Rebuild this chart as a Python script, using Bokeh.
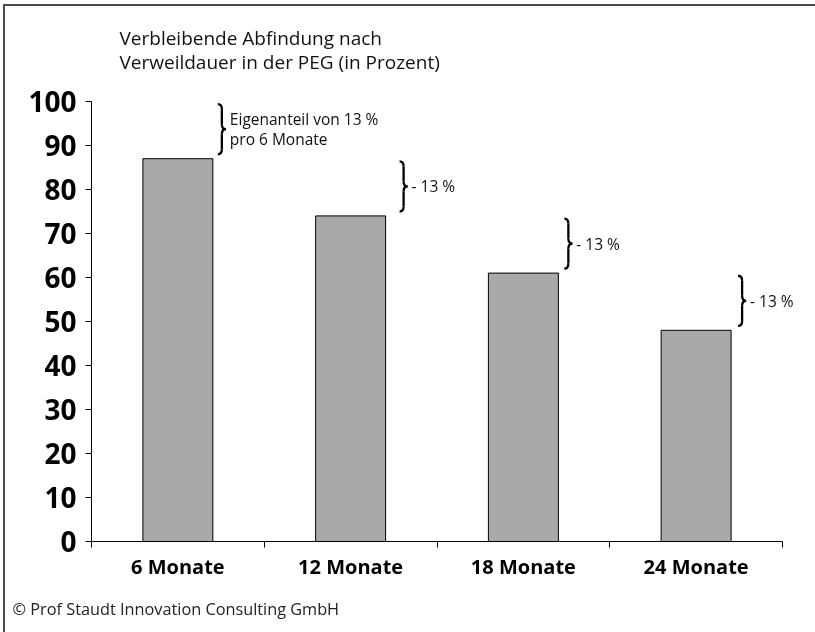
from bokeh.plotting import figure
from bokeh.models import FixedTicker, Label, Range1d, Title
from bokeh.embed import file_html
from bokeh.resources import INLINE

# ---- data ----
categories = ["6 Monate", "12 Monate", "18 Monate", "24 Monate"]
values = [87, 74, 61, 48]
start_value = 100
y_ticks = [0, 10, 20, 30, 40, 50, 60, 70, 80, 90, 100]
title_lines = ["Verbleibende Abfindung nach", "Verweildauer in der PEG (in Prozent)"]
brace_texts = [["Eigenanteil von 13 %", "pro 6 Monate"], ["- 13 %"], ["- 13 %"], ["- 13 %"]]
copyright_text = "© Prof Staudt Innovation Consulting GmbH"

FONT = "Open Sans"
n = len(categories)
xc = [i + 0.5 for i in range(n)]

W, H = 812, 632
ML, MB = 86, 97
frame_w = W - ML
frame_h = H - MB
px_per_cat = 172.75
px_per_unit = 4.4
x_end = frame_w / px_per_cat
y_end = frame_h / px_per_unit

p = figure(width=W, height=H, x_range=Range1d(0, x_end), y_range=Range1d(0, y_end),
           output_backend="svg", toolbar_location=None,
           min_border_left=ML, min_border_right=0, min_border_top=0, min_border_bottom=MB)
p.styles = {"position": "fixed", "top": "4px", "left": "3px",
            "border-top": "2px solid #4a4a4a", "border-left": "2px solid #4a4a4a"}
p.outline_line_color = None
p.xgrid.visible = False
p.ygrid.visible = False
p.background_fill_color = "white"
p.border_fill_color = "white"

pxx = px_per_cat
pxy = px_per_unit

bar_w = 0.405
p.vbar(x=xc, top=values, bottom=0, width=bar_w, fill_color="#a9a9a9",
       line_color="black", line_width=1)

# ---- braces ----
prev = [start_value] + values[:-1]
brace_dx = [5, 14, 6, 7]
w = 8 / pxx
ry = 5 / pxy
q = dict(x0=[], y0=[], x1=[], y1=[], cx=[], cy=[])
seg = dict(x0=[], y0=[], x1=[], y1=[])
def addq(a, b, c, d, e, f):
    q["x0"].append(a); q["y0"].append(b); q["x1"].append(c); q["y1"].append(d)
    q["cx"].append(e); q["cy"].append(f)
def adds(a, b, c, d):
    seg["x0"].append(a); seg["y0"].append(b); seg["x1"].append(c); seg["y1"].append(d)

for i in range(n):
    top = prev[i] - 0.6
    bot = values[i] + 1.0
    mid = (top + bot) / 2
    x0 = xc[i] + bar_w / 2 + brace_dx[i] / pxx
    xm = x0 + w / 2
    addq(x0, top, xm, top - ry, xm, top)
    adds(xm, top - ry, xm, mid + ry)
    addq(xm, mid + ry, x0 + w, mid, xm, mid)
    addq(x0 + w, mid, xm, mid - ry, xm, mid)
    adds(xm, mid - ry, xm, bot + ry)
    addq(xm, bot + ry, x0, bot, xm, bot)
    lines = brace_texts[i]
    lh = 20 / pxy
    y_first = mid + (len(lines) - 1) * lh / 2
    for j, t in enumerate(lines):
        p.add_layout(Label(x=x0 + w + 4 / pxx, y=y_first - j * lh, text=t,
                           text_font=FONT, text_font_size="15.5px", text_color="#111111",
                           text_baseline="middle", text_align="left"))

p.quadratic(x0="x0", y0="y0", x1="x1", y1="y1", cx="cx", cy="cy", source=q,
            line_color="black", line_width=2.3)
p.segment(x0="x0", y0="y0", x1="x1", y1="y1", source=seg, line_color="black", line_width=2.3)

# ---- title (screen units relative to the frame) ----
for j, t in enumerate(title_lines):
    p.add_layout(Label(x=28, y=frame_h - 31 - j * 24, x_units="screen", y_units="screen",
                       text=t, text_font=FONT, text_font_size="19px", text_color="#111111",
                       text_baseline="middle", text_align="left"))

# ---- footer ----
p.add_layout(Title(text=copyright_text, align="left", offset=-79, standoff=26,
                   text_font=FONT, text_font_size="16.3px", text_font_style="normal",
                   text_color="#222222"), "below")

# ---- axes ----
ya = p.yaxis[0]
ya.ticker = FixedTicker(ticks=y_ticks)
ya.bounds = (0, start_value)
ya.major_label_text_font = FONT
ya.major_label_text_font_size = "28px"
ya.major_label_text_font_style = "bold"
ya.major_label_text_color = "black"
ya.major_tick_out = 6
ya.major_tick_in = 0
ya.minor_tick_out = 0
ya.minor_tick_in = 0
ya.major_label_standoff = 9
ya.axis_line_color = "black"
ya.major_tick_line_color = "black"

xa = p.xaxis[0]
xa.ticker = FixedTicker(ticks=xc, minor_ticks=list(range(n + 1)))
xa.bounds = (0, n)
xa.major_label_overrides = {xc[i]: categories[i] for i in range(n)}
xa.major_label_text_font = FONT
xa.major_label_text_font_size = "20px"
xa.major_label_text_font_style = "bold"
xa.major_label_text_color = "black"
xa.major_tick_out = 0
xa.major_tick_in = 0
xa.minor_tick_out = 6
xa.minor_tick_in = 0
xa.minor_tick_line_color = "black"
xa.major_label_standoff = 5
xa.axis_line_color = "black"

open("out.html", "w").write(file_html(p, INLINE))
